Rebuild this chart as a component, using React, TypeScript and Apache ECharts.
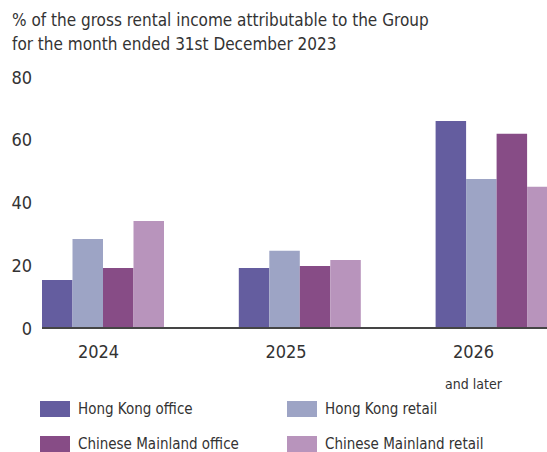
import React, { useEffect, useRef } from "react";
import * as echarts from "echarts";

const categories = ["2024", "2025", "2026"];
const seriesNames = ["Hong Kong office", "Hong Kong retail", "Chinese Mainland office", "Chinese Mainland retail"];
const hkOffice = [15.3, 19.1, 66.0];
const hkRetail = [28.4, 24.6, 47.5];
const cmOffice = [19.1, 19.8, 61.9];
const cmRetail = [34.1, 21.7, 45.0];
const yMin = 0;
const yMax = 80;
const yInterval = 20;
const lastLabelNote = "and later";

const COLORS = ["#645D9F", "#9DA4C5", "#874C86", "#B894BC"];
const FONT = "'Liberation Sans Narrow', 'DejaVu Sans Condensed', sans-serif";
const TEXT = "#333333";
const BAR_W = 30.5;
const GRID_LEFT = 4.6;
const GRID_W = 590.4;
const GRID_TOP = 77;
const GRID_H = 251;

export default function App() {
  const ref = useRef<HTMLDivElement>(null);
  useEffect(() => {
    if (!ref.current) return;
    const chart = echarts.init(ref.current, undefined, { renderer: "svg" });
    const values = [hkOffice, hkRetail, cmOffice, cmRetail];
    const legendPos = [
      { left: 40, top: 401 },
      { left: 287, top: 401 },
      { left: 40, top: 436 },
      { left: 287, top: 436 },
    ];
    const band = GRID_W / categories.length;
    const axisStart = GRID_LEFT + band / 2 - 2 * BAR_W;
    const baseY = GRID_TOP + GRID_H;
    chart.setOption({
      animation: false,
      textStyle: { fontFamily: FONT },
      title: {
        text: "% of the gross rental income attributable to the Group\nfor the month ended 31st December 2023",
        left: 12,
        top: 8,
        padding: 0,
        textStyle: { fontFamily: FONT, fontSize: 17, lineHeight: 24, color: TEXT, fontWeight: "normal" },
      },
      legend: seriesNames.map((n, i) => ({
        data: [n],
        left: legendPos[i].left,
        top: legendPos[i].top,
        padding: 0,
        icon: "rect",
        itemWidth: 30,
        itemHeight: 16,
        selectedMode: false,
        textStyle: { fontFamily: FONT, fontSize: 15, color: TEXT, lineHeight: 16, padding: [0, 0, 0, 3] },
      })),
      grid: [
        { left: GRID_LEFT, width: GRID_W, top: GRID_TOP, height: GRID_H, outerBoundsMode: "none", containLabel: false },
        { left: 4.75, width: 562.5, top: GRID_TOP, height: GRID_H, outerBoundsMode: "none", containLabel: false },
      ],
      graphic: [
        {
          type: "rect",
          z: 200,
          x: axisStart,
          y: baseY - 1,
          shape: { x: 0, y: 0, width: 547 - axisStart, height: 2 },
          style: { fill: "#454545" },
        },
      ],
      xAxis: [
        {
          type: "category",
          gridIndex: 0,
          data: categories,
          axisLine: { show: false },
          axisTick: { show: false },
          axisLabel: { show: false },
        },
        {
          type: "category",
          gridIndex: 1,
          data: categories,
          axisLine: { show: false },
          axisTick: { show: false },
          axisLabel: {
            margin: 11,
            formatter: (v: string, idx: number) =>
              idx === categories.length - 1 ? `{a|${v}}\n{b|${lastLabelNote}}` : `{a|${v}}`,
            rich: {
              a: { fontFamily: FONT, fontSize: 18, lineHeight: 24, color: TEXT },
              b: { fontFamily: FONT, fontSize: 14, lineHeight: 42, color: TEXT },
            },
          },
        },
      ],
      yAxis: [
        {
          type: "value",
          gridIndex: 0,
          min: yMin,
          max: yMax,
          interval: yInterval,
          splitLine: { show: false },
          axisLine: { show: false },
          axisTick: { show: false },
          axisLabel: { align: "right", margin: -27.4, fontFamily: FONT, fontSize: 18, color: TEXT },
        },
        { type: "value", gridIndex: 1, min: yMin, max: yMax, show: false },
      ],
      series: values.map((d, i) => ({
        name: seriesNames[i],
        type: "bar",
        xAxisIndex: 0,
        yAxisIndex: 0,
        data: d,
        barWidth: BAR_W,
        barGap: "0%",
        itemStyle: { color: COLORS[i] },
        markLine:
          i === values.length - 1
            ? {
                silent: true,
                symbol: "none",
                label: { show: false },
                lineStyle: { color: "#454545", width: 2, type: "solid" },
                data: [[{ x: axisStart, y: baseY }, { x: 547, y: baseY }]],
              }
            : undefined,
      })),
    });
    return () => chart.dispose();
  }, []);
  return <div ref={ref} style={{ position: "absolute", left: 0, top: 0, width: 547, height: 452 }} />;
}
